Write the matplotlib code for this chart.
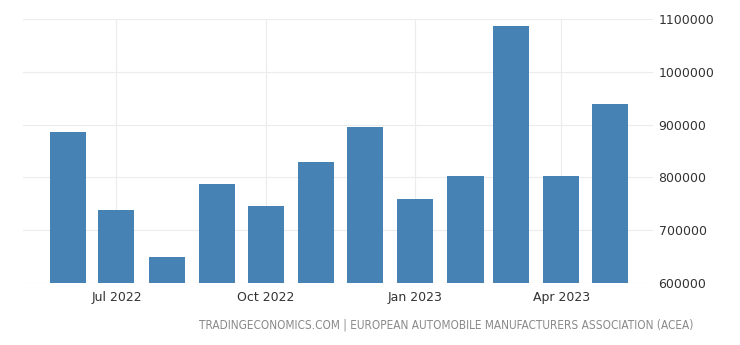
import matplotlib
matplotlib.use("Agg")
import matplotlib.pyplot as plt
import pandas as pd

months = ["2022-06", "2022-07", "2022-08", "2022-09", "2022-10", "2022-11",
          "2022-12", "2023-01", "2023-02", "2023-03", "2023-04", "2023-05"]
registrations = [886000, 737600, 649900, 787500, 745200, 829200,
                 896100, 759100, 802700, 1087400, 802700, 938400]
tick_dates = ["2022-07-01", "2022-10-01", "2023-01-01", "2023-04-01"]
tick_labels = ["Jul 2022", "Oct 2022", "Jan 2023", "Apr 2023"]
y_ticks = [600000, 700000, 800000, 900000, 1000000, 1100000]
source = "TRADINGECONOMICS.COM | EUROPEAN AUTOMOBILE MANUFACTURERS ASSOCIATION (ACEA)"

dates = pd.to_datetime(months)

fig = plt.figure(figsize=(7.4, 3.45), dpi=100)
ax = fig.add_axes([23 / 740, 1 - 283 / 345, 630 / 740, 264 / 345])

ax.bar(dates, registrations, width=22.2, color="#4682b4", zorder=2)

ax.set_ylim(600000, 1100000)
ax.set_xlim(pd.Timestamp("2022-05-04 10:00"), pd.Timestamp("2023-05-27 12:00"))

ax.set_yticks(y_ticks)
ax.set_yticklabels([str(v) for v in y_ticks])
ax.yaxis.tick_right()
ax.set_xticks(pd.to_datetime(tick_dates))
ax.set_xticklabels(tick_labels)

ax.tick_params(axis="both", length=0, labelsize=9, colors="#333333")
ax.tick_params(axis="y", pad=4)
ax.tick_params(axis="x", pad=6)

ax.grid(True, color="#ececec", linewidth=0.8, zorder=0)
for s in ax.spines.values():
    s.set_visible(False)

fig.text(693 / 740, 1 - 325 / 345, source, ha="right", va="center",
         fontsize=8.5, color="#8a8a8a", fontstretch="condensed")

fig.savefig("out.png", dpi=100)
